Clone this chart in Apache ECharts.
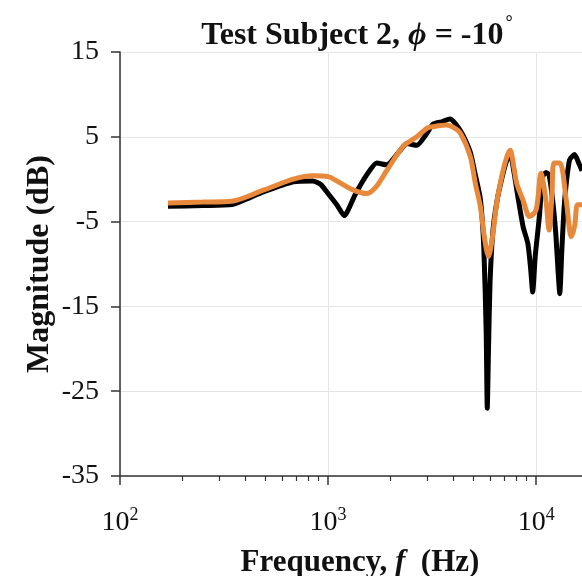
<!DOCTYPE html>
<html><head><meta charset="utf-8">
<script src="https://cdn.jsdelivr.net/npm/echarts@6/dist/echarts.min.js"></script>
<style>html,body{margin:0;padding:0;background:#fff}#c{width:582px;height:576px}</style>
</head><body><div id="c"></div>
<script>
const freqBlack = [170,250,344,488,681,844,920,1000,1100,1195,1350,1533,1713,1912,2220,2390,2670,2980,3200,3550,3850,4080,4400,4820,5100,5390,5600,5750,5820,5900,6000,6200,6490,6900,7240,7500,7800,8170,8650,9120,9400,9620,9900,10360,10740,11150,11530,12000,12420,12750,12980,13300,13700,14470,15280,16140,16600];
const magBlack = [-3.2,-3.1,-3.0,-1.5,-0.3,-0.2,-0.6,-1.7,-3.0,-4.3,-1.8,0.5,1.9,1.7,3.4,4.2,4.0,5.4,6.5,6.8,7.1,6.6,5.4,3.2,0.5,-2.3,-8.0,-18,-27.0,-20,-12.2,-6,-2.5,0.5,2.3,3.0,1.0,-2.1,-5.6,-7.6,-10.5,-13.3,-9,-4.4,0.3,0.8,0.5,-2.5,-6.4,-11,-13.5,-8,-2.5,2.3,2.9,1.7,1.0];
const freqOrange = [170,250,344,488,681,850,1000,1100,1300,1533,1700,1912,2300,2670,2980,3200,3710,4000,4330,4820,5100,5390,5650,5900,6150,6490,6900,7240,7500,7800,8060,8650,9300,10000,10540,11140,11530,11900,12180,12980,13950,14730,15300,15800,16600];
const magOrange = [-2.8,-2.7,-2.6,-1.3,0.0,0.4,0.3,-0.2,-1.2,-1.7,-0.9,1.0,3.9,5.0,6.0,6.2,6.4,6.1,5.4,2.7,-0.5,-3.2,-7,-9.1,-7,-2.5,0.8,2.7,3.4,1.5,-0.5,-2.5,-4.4,-3.6,0.7,-2.5,-6.0,-2,1.9,1.9,-2.5,-6.8,-5.5,-3.0,-3.0];
const xMajorTicks = [100,1000,10000];
const xMinorTicks = [200,300,400,500,600,700,800,900,2000,3000,4000,5000,6000,7000,8000,9000];
const yTicks = [-35,-25,-15,-5,5,15];

const FONT = 'Liberation Serif';
const zip = (a,b)=>a.map((v,i)=>[v,b[i]]);
const chart = echarts.init(document.getElementById('c'), null, {renderer:'canvas'});
const supRich = {
  base:{fontFamily:FONT,fontSize:28,color:'#111'},
  sup:{fontFamily:FONT,fontSize:18,color:'#111',padding:[0,0,16,0]}
};
chart.setOption({
  animation:false,
  backgroundColor:'#fff',
  title:{
    text:'{b|Test Subject 2, }{i|ϕ}{b| = -10}{s|°}',
    left:352, top:9, textAlign:'center',
    textStyle:{rich:{
      b:{fontFamily:FONT,fontWeight:'bold',fontSize:32,color:'#111'},
      i:{fontFamily:FONT,fontWeight:'bold',fontStyle:'italic',fontSize:32,color:'#111'},
      s:{fontFamily:FONT,fontWeight:'bold',fontSize:18,color:'#111',padding:[0,0,26,2]}
    }}
  },
  grid:{left:120,right:0,top:52,bottom:100,containLabel:false,outerBoundsMode:'none'},
  xAxis:[{
    type:'log', logBase:10, min:100, max:16600,
    name:'{b|Frequency, }{i|f}{b|  (Hz)}', nameLocation:'middle', nameGap:71, nameMoveOverlap:false,
    nameTextStyle:{padding:[0,0,0,18],rich:{
      b:{fontFamily:FONT,fontWeight:'bold',fontSize:31,color:'#111'},
      i:{fontFamily:FONT,fontWeight:'bold',fontStyle:'italic',fontSize:31,color:'#111'}
    }},
    axisLine:{show:true,onZero:false,lineStyle:{color:'#333',width:1.5}},
    axisTick:{show:true,inside:false,length:9,customValues:xMajorTicks,lineStyle:{color:'#333',width:1.5}},
    axisLabel:{show:true,margin:30,customValues:xMajorTicks,
      formatter:v=>'{base|10}{sup|'+Math.round(Math.log10(v))+'}',rich:supRich},
    splitLine:{show:true,lineStyle:{color:'#e6e6e6',width:1}}
  },{
    type:'log', logBase:10, min:100, max:16600, gridIndex:0, position:'bottom',
    axisLine:{show:false,onZero:false},
    axisTick:{show:true,inside:false,length:5,customValues:xMinorTicks,lineStyle:{color:'#333',width:1.2}},
    axisLabel:{show:false},
    splitLine:{show:false}
  }],
  yAxis:{
    type:'value', min:-35, max:15, interval:10,
    name:'Magnitude (dB)', nameLocation:'middle', nameGap:64, nameRotate:90, nameMoveOverlap:false,
    nameTextStyle:{fontFamily:FONT,fontWeight:'bold',fontSize:32,color:'#111'},
    axisLine:{show:true,onZero:false,lineStyle:{color:'#333',width:1.5}},
    axisTick:{show:true,inside:false,length:9,lineStyle:{color:'#333',width:1.5}},
    axisLabel:{fontFamily:FONT,fontSize:28,color:'#111',margin:21},
    splitLine:{show:true,lineStyle:{color:'#e6e6e6',width:1}}
  },
  series:[{
    type:'line', name:'black', data:zip(freqBlack,magBlack), showSymbol:false, smooth:0.2,
    lineStyle:{color:'#000',width:5}, z:2
  },{
    type:'line', name:'orange', data:zip(freqOrange,magOrange), showSymbol:false, smooth:0.3,
    lineStyle:{color:'#E8883A',width:5}, z:3
  }]
});
</script></body></html>
